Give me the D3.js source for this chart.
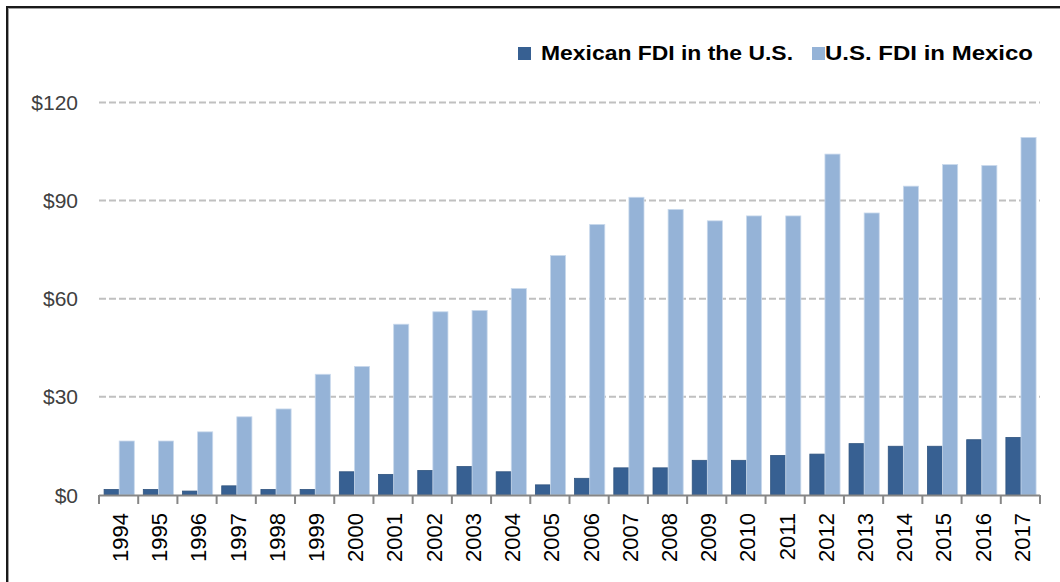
<!DOCTYPE html>
<html>
<head>
<meta charset="utf-8">
<script src="https://cdn.jsdelivr.net/npm/d3@7"></script>
<style>
  body { margin: 0; background: #fff; }
  svg { display: block; }
</style>
</head>
<body>
<svg class="chart"></svg>
<script>
// Chart data (billions of dollars)
var years = ["1994", "1995", "1996", "1997", "1998", "1999", "2000", "2001",
    "2002", "2003", "2004", "2005", "2006", "2007", "2008", "2009", "2010",
    "2011", "2012", "2013", "2014", "2015", "2016", "2017"];
var mexicanInUS = [1.7, 1.7, 1.2, 2.8, 1.7, 1.7, 7.1, 6.3, 7.5, 8.7, 7.1, 3.1,
    5.1, 8.3, 8.3, 10.6, 10.6, 12.1, 12.5, 15.7, 14.9, 14.9, 16.9, 17.6];
var usInMexico = [16.5, 16.5, 19.3, 23.9, 26.3, 36.9, 39.3, 52.2, 56.0, 56.4,
    63.1, 73.2, 82.7, 91.0, 87.3, 83.8, 85.3, 85.3, 104.2, 86.2, 94.4, 101.0,
    100.7, 109.3];
var seriesNames = ["Mexican FDI in the U.S.", "U.S. FDI in Mexico"];
var yTicks = [0, 30, 60, 90, 120];

var colors = ["#376092", "#95b3d7"];
var width = 1060, height = 582;
var font = "'Liberation Sans', Arial, sans-serif";

var svg = d3.select(".chart")
    .attr("width", width)
    .attr("height", height);

// outer frame (only top and left edges show in the picture)
svg.append("rect")
    .attr("x", 8.5).attr("y", 8.5)
    .attr("width", 1200).attr("height", 800)
    .attr("fill", "none")
    .attr("stroke", "#a0a0a0")
    .attr("stroke-width", 1);
svg.append("rect")
    .attr("x", 7).attr("y", 7)
    .attr("width", 1200).attr("height", 800)
    .attr("fill", "none")
    .attr("stroke", "#1a1a1a")
    .attr("stroke-width", 2);

// scales
var x0 = d3.scaleBand()
    .domain(years)
    .range([99, 1040]);

var x1 = d3.scaleBand()
    .domain([0, 1])
    .range([x0.step() * 0.13, x0.step() * 0.9]);

var y = d3.scaleLinear()
    .domain([0, 120])
    .range([495, 102.4]);

// gridlines
svg.append("g")
    .selectAll("line")
    .data(yTicks.slice(1)).enter()
    .append("line")
    .attr("x1", 99)
    .attr("x2", 1040)
    .attr("y1", d => y(d))
    .attr("y2", d => y(d))
    .attr("stroke", "#c0c0c0")
    .attr("stroke-width", 2)
    .attr("stroke-dasharray", "7,3");

// y labels
svg.append("g")
    .selectAll("text")
    .data(yTicks).enter()
    .append("text")
    .attr("x", 78)
    .attr("y", d => y(d))
    .attr("dy", "0.36em")
    .attr("text-anchor", "end")
    .attr("font-family", font)
    .attr("font-size", 21)
    .attr("fill", "#404040")
    .text(d => "$" + d);

// bars
var rows = years.map((yr, i) => ({year: yr, values: [mexicanInUS[i], usInMexico[i]]}));

var groups = svg.append("g")
    .selectAll("g")
    .data(rows).enter()
    .append("g")
    .attr("transform", d => `translate(${x0(d.year)},0)`);

groups.selectAll("rect")
    .data(d => d.values.map((v, k) => ({k: k, v: v}))).enter()
    .append("rect")
    .attr("x", d => x1(d.k))
    .attr("y", d => y(d.v))
    .attr("width", x1.bandwidth())
    .attr("height", d => y(0) - y(d.v))
    .attr("fill", d => colors[d.k])
    .attr("stroke", d => d.k === 0 ? "#30547f" : "#c9d9ec")
    .attr("stroke-width", 0.8);

// x axis line and boundary ticks
var tickPos = years.map(d => x0(d)).concat([x0.range()[1]]);

svg.append("line")
    .attr("x1", 99).attr("x2", 1040)
    .attr("y1", 495.5).attr("y2", 495.5)
    .attr("stroke", "#868686")
    .attr("stroke-width", 2);

svg.append("g")
    .selectAll("line")
    .data(tickPos).enter()
    .append("line")
    .attr("x1", d => d).attr("x2", d => d)
    .attr("y1", 495).attr("y2", 504)
    .attr("stroke", "#868686")
    .attr("stroke-width", 2);

// x labels, rotated
svg.append("g")
    .selectAll("text")
    .data(years).enter()
    .append("text")
    .attr("transform", d => `translate(${x0(d) + x0.bandwidth() / 2 + 1.5},513) rotate(-90)`)
    .attr("dy", "0.36em")
    .attr("text-anchor", "end")
    .attr("font-family", font)
    .attr("font-size", 22)
    .attr("fill", "#000")
    .text(d => d);

// legend
var legendPos = [{sq: 518, tx: 541, len: 252}, {sq: 812, tx: 825, len: 208}];

var legend = svg.append("g")
    .selectAll("g")
    .data(seriesNames).enter()
    .append("g");

legend.append("rect")
    .attr("x", (d, i) => legendPos[i].sq)
    .attr("y", 47)
    .attr("width", 13)
    .attr("height", 13)
    .attr("fill", (d, i) => colors[i]);

legend.append("text")
    .attr("x", (d, i) => legendPos[i].tx)
    .attr("y", 60)
    .attr("font-family", font)
    .attr("font-weight", "bold")
    .attr("font-size", 21)
    .attr("textLength", (d, i) => legendPos[i].len)
    .attr("lengthAdjust", "spacingAndGlyphs")
    .attr("fill", "#000")
    .text(d => d);
</script>
</body>
</html>
